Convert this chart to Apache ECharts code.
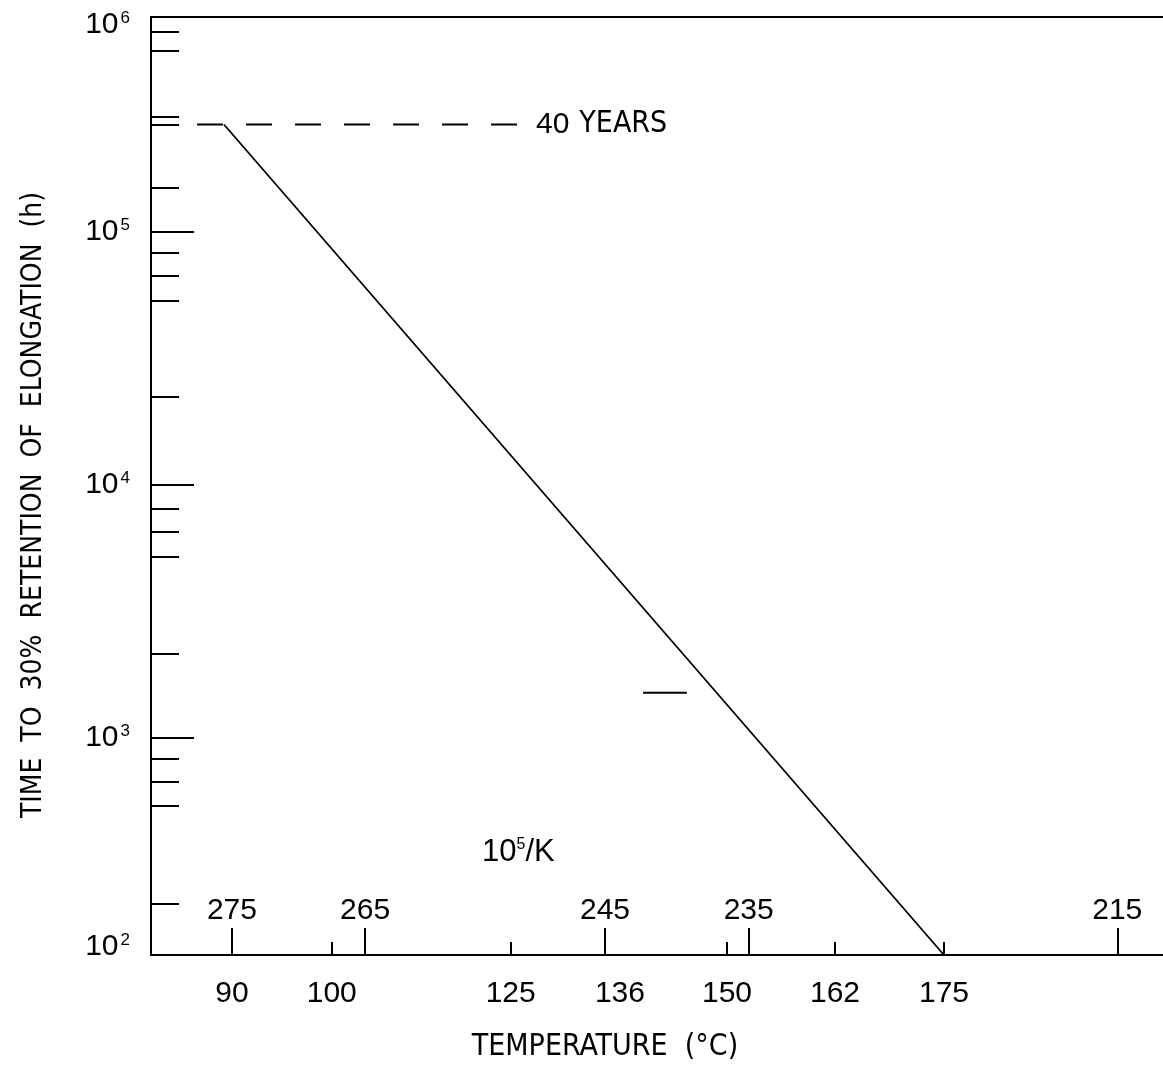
<!DOCTYPE html>
<html>
<head>
<meta charset="utf-8">
<script src="https://cdn.jsdelivr.net/npm/echarts@6/dist/echarts.min.js"></script>
<style>
  html, body { margin: 0; padding: 0; background: #fff; }
  #chart { width: 1163px; height: 1068px; }
</style>
</head>
<body>
<div id="chart"></div>
<script>
// ---- data (x positions are along the drawn, non-uniform temperature scale, 0..100) ----
const tempLabels = ['90', '100', '125', '136', '150', '162', '175'];          // °C, below axis
const tempLabelPos = [8.00, 17.86, 35.54, 46.34, 56.92, 67.59, 78.36];
const tempTickPos = [17.86, 35.54, 56.92, 67.59, 78.36];
const recipLabels = ['275', '265', '245', '235', '215'];                         // 10^5/K, inside
const recipPos = [8.00, 21.15, 44.86, 59.06, 95.48];

const axisHoursMin = 138.7;     // frame bottom (labelled 10^2)
const axisHoursMax = 704700;    // frame top (labelled 10^6)
const yLabelHours = [axisHoursMin, 1e3, 1e4, 1e5, axisHoursMax];
const yLabelExp = ['2', '3', '4', '5', '6'];
const majorTickHours = [1e3, 1e4, 1e5];
const minorTickHours = [617000, 517000, 284000, 264000, 149000,
                        82600, 67000, 53200, 22200,
                        8040, 6510, 5180, 2150,
                        830, 673, 538, 222];

const fortyYearsHours = 265000;
const dashPos = [4.55, 36.46];
const linePos = [7.21, 78.36];
const lineHours = [265000, 138.7];
const stubPos = [48.62, 52.96];
const stubHours = [1507, 1507];

// ---- build ----
const L = v => Math.log10(v);
const NUM = "'Liberation Sans', Arial, sans-serif";
const TXT = "'Liberation Sans Narrow', 'DejaVu Sans Condensed', 'Liberation Sans', sans-serif";
const ink = '#000';

const chart = echarts.init(document.getElementById('chart'), null, { renderer: 'canvas' });

const xBase = { type: 'value', min: 0, max: 100, splitLine: { show: false } };
const yBase = { type: 'value', min: L(axisHoursMin), max: L(axisHoursMax), splitLine: { show: false } };

const option = {
  backgroundColor: '#fff',
  animation: false,
  grid: { left: 151, right: 0, top: 17, bottom: 113, containLabel: false },
  xAxis: [
    Object.assign({}, xBase, {
      position: 'bottom',
      axisLine: { show: true, onZero: false, lineStyle: { color: ink, width: 2 } },
      axisTick: { show: true, inside: true, length: 13, customValues: tempTickPos, lineStyle: { color: ink, width: 2 } },
      axisLabel: {
        show: true, customValues: tempLabelPos, margin: 24,
        fontFamily: NUM, fontSize: 30, color: ink,
        formatter: v => { const i = tempLabelPos.findIndex(p => Math.abs(p - v) < 1e-6); return i >= 0 ? tempLabels[i] : ''; }
      }
    }),
    Object.assign({}, xBase, {
      position: 'bottom',
      axisLine: { show: false, onZero: false },
      axisTick: { show: true, inside: true, length: 27, customValues: recipPos, lineStyle: { color: ink, width: 2 } },
      axisLabel: {
        show: true, inside: true, customValues: recipPos, margin: 29,
        fontFamily: NUM, fontSize: 30, color: ink,
        formatter: v => { const i = recipPos.findIndex(p => Math.abs(p - v) < 1e-6); return i >= 0 ? recipLabels[i] : ''; }
      }
    }),
    Object.assign({}, xBase, {
      position: 'top',
      axisLine: { show: true, onZero: false, lineStyle: { color: ink, width: 2 } },
      axisTick: { show: false }, axisLabel: { show: false }
    })
  ],
  yAxis: [
    Object.assign({}, yBase, {
      position: 'left',
      axisLine: { show: true, onZero: false, lineStyle: { color: ink, width: 2 } },
      axisTick: { show: true, inside: true, length: 43, customValues: majorTickHours.map(L), lineStyle: { color: ink, width: 2 } },
      axisLabel: {
        show: true, customValues: yLabelHours.map(L), margin: 21, color: ink,
        fontFamily: NUM, fontSize: 30,
        formatter: v => {
          const i = yLabelHours.findIndex(h => Math.abs(L(h) - v) < 1e-6);
          if (i < 0) return '';
          if (i === yLabelHours.length - 1) return '{bt|10}{st|' + yLabelExp[i] + '}';
          if (i === 0) return '{bb|10}{sb|' + yLabelExp[i] + '}';
          return '{b|10}{s|' + yLabelExp[i] + '}';
        },
        rich: {
          b: { fontFamily: NUM, fontSize: 30, color: ink },
          s: { fontFamily: NUM, fontSize: 17, color: ink, verticalAlign: 'top', padding: [0, 0, 0, 2] },
          bt: { fontFamily: NUM, fontSize: 30, color: ink, padding: [16, 0, 0, 0] },
          st: { fontFamily: NUM, fontSize: 17, color: ink, verticalAlign: 'top', padding: [16, 0, 0, 2] },
          bb: { fontFamily: NUM, fontSize: 30, color: ink, padding: [0, 0, 16, 0] },
          sb: { fontFamily: NUM, fontSize: 17, color: ink, verticalAlign: 'top', padding: [0, 0, 16, 2] }
        }
      }
    }),
    Object.assign({}, yBase, {
      position: 'left',
      axisLine: { show: false, onZero: false },
      axisTick: { show: true, inside: true, length: 28, customValues: minorTickHours.map(L), lineStyle: { color: ink, width: 2 } },
      axisLabel: { show: false }
    })
  ],
  series: [
    {
      name: '40 years', type: 'line', xAxisIndex: 0, yAxisIndex: 0, symbol: 'none', silent: true,
      data: dashPos.map(p => [p, L(fortyYearsHours)]),
      lineStyle: { color: ink, width: 1.8, type: [26, 23] },
      endLabel: {
        show: true, distance: 16, formatter: '{d|40}   {w|YEARS}',
        rich: {
          d: { fontFamily: NUM, fontSize: 30, color: ink },
          w: { fontFamily: TXT, fontSize: 30, color: ink }
        }
      }
    },
    {
      name: 'life line', type: 'line', xAxisIndex: 0, yAxisIndex: 0, symbol: 'none', silent: true,
      data: linePos.map((p, i) => [p, L(lineHours[i])]),
      lineStyle: { color: ink, width: 1.8 }
    },
    {
      name: 'stub', type: 'line', xAxisIndex: 0, yAxisIndex: 0, symbol: 'none', silent: true,
      data: stubPos.map((p, i) => [p, L(stubHours[i])]),
      lineStyle: { color: ink, width: 1.8 }
    }
  ],
  graphic: [
    {
      type: 'text', x: 482, y: 852,
      style: {
        text: '{b|10}{s|5}{b|/K}', verticalAlign: 'middle', align: 'left',
        rich: {
          b: { fontFamily: NUM, fontSize: 31, fill: ink },
          s: { fontFamily: NUM, fontSize: 16, fill: ink, verticalAlign: 'top' }
        }
      }
    },
    {
      type: 'text', x: 605, y: 1047,
      style: { text: 'TEMPERATURE  (°C)', font: '30px ' + TXT, fill: ink, align: 'center', verticalAlign: 'middle' }
    },
    {
      type: 'text', x: 34, y: 505, rotation: Math.PI / 2,
      style: { text: 'TIME  TO  30%  RETENTION  OF  ELONGATION  (h)', font: '28px ' + TXT, fill: ink, align: 'center', verticalAlign: 'middle' }
    }
  ]
};
chart.setOption(option);
</script>
</body>
</html>
